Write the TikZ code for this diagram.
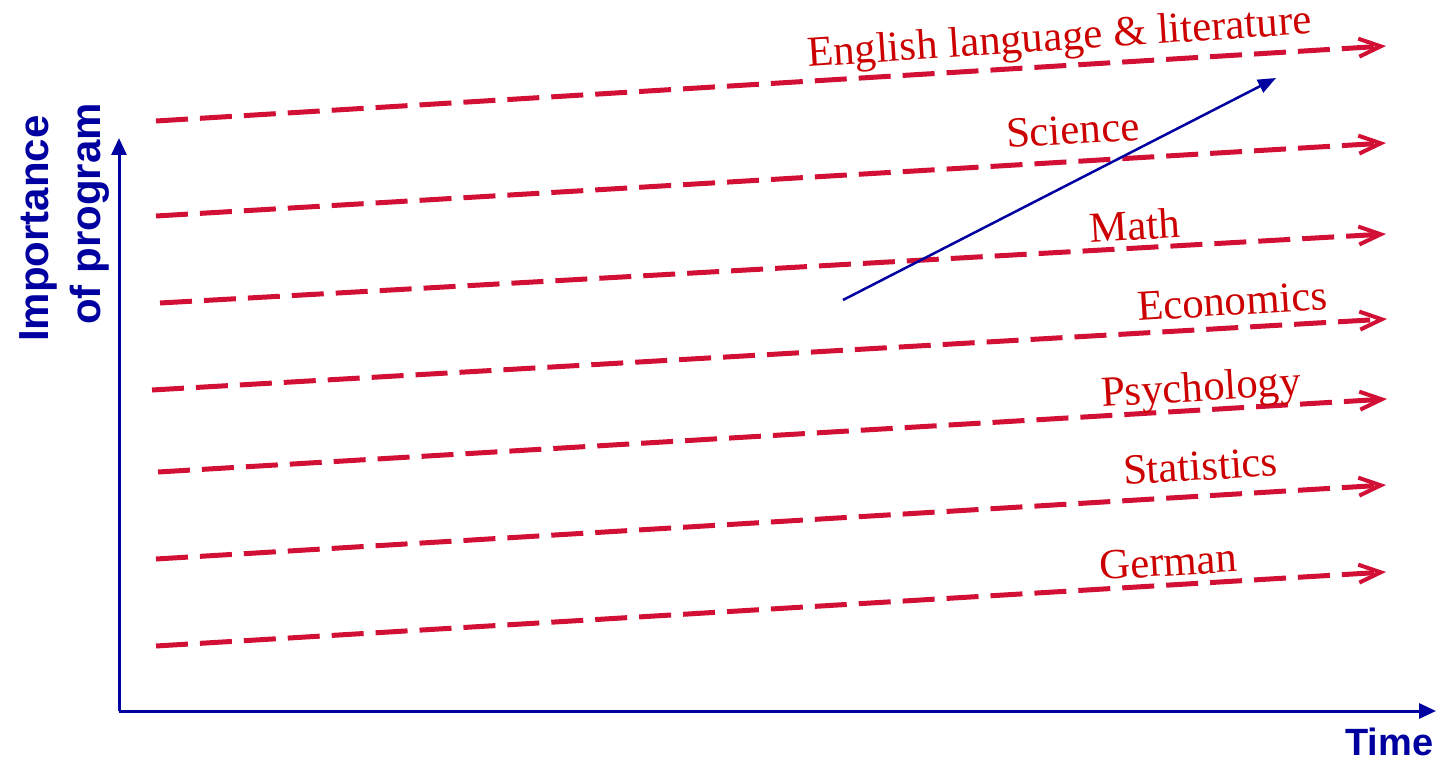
\documentclass[tikz,border=0pt]{standalone}
\usepackage{fontspec}
\setmainfont{Liberation Serif}
\newfontfamily\axisfont{Liberation Sans}
\usetikzlibrary{arrows.meta}
\definecolor{lred}{RGB}{210,16,54}
\definecolor{tred}{RGB}{204,0,0}
\definecolor{navy}{RGB}{0,0,160}
\tikzset{
  trend/.style={draw=lred, line width=5pt, dash pattern=on 32pt off 12pt,
    -{Straight Barb[length=22pt,width=18pt,line width=4pt]}},
  subj/.style={text=tred, font=\fontsize{42.8}{50}\selectfont, anchor=base west, inner sep=0pt, rotate=3.5},
  axis/.style={draw=navy, line width=3pt, -{Triangle[length=17pt,width=15pt]}},
  axlabel/.style={text=navy, font=\axisfont\bfseries\fontsize{42}{50}\selectfont, anchor=base west, inner sep=0pt},
  growth/.style={draw=navy, line width=2.5pt, -{Triangle[length=18pt,width=14pt]}}
}
\begin{document}
\begin{tikzpicture}[x=1pt,y=-1pt]
\useasboundingbox (0,0) rectangle (1454,762);
% axes
\coordinate (O) at (119,711);
\coordinate (Ytop) at (119,138);
\coordinate (Xend) at (1436,711);
\draw[axis] (O) -- (Ytop);
\draw[axis] (O) -- (Xend);
\node[axlabel, rotate=90] (imp1) at (48,342) {Importance};
\node[axlabel, rotate=90] (imp2) at (100,325) {of program};
\node[axlabel, font=\axisfont\bfseries\fontsize{38}{46}\selectfont] (time) at (1345,755) {Time};
% trend lines
\coordinate (s1) at (156,121); \coordinate (e1) at (1386,46);
\coordinate (s2) at (156,216); \coordinate (e2) at (1386,143);
\coordinate (s3) at (160,303); \coordinate (e3) at (1386,234);
\coordinate (s4) at (152,390); \coordinate (e4) at (1387,319);
\coordinate (s5) at (158,472); \coordinate (e5) at (1387,399);
\coordinate (s6) at (156,559); \coordinate (e6) at (1386,485);
\coordinate (s7) at (156,646); \coordinate (e7) at (1386,572);
\foreach \i in {1,...,7} { \draw[trend] (s\i) -- (e\i); }
% labels
\node[subj, rotate=0.3] (eng) at (808,67) {English language \& literature};
\node[subj] (sci) at (1007,148) {Science};
\node[subj] (math) at (1090,243) {Math};
\node[subj] (eco) at (1138,321) {Economics};
\node[subj] (psy) at (1102,407) {Psychology};
\node[subj] (stat) at (1124,485) {Statistics};
\node[subj] (ger) at (1100,580) {German};
% growth arrow
\coordinate (g0) at (843,300);
\coordinate (g1) at (1276,78);
\draw[growth] (g0) -- (g1);
\end{tikzpicture}
\end{document}
